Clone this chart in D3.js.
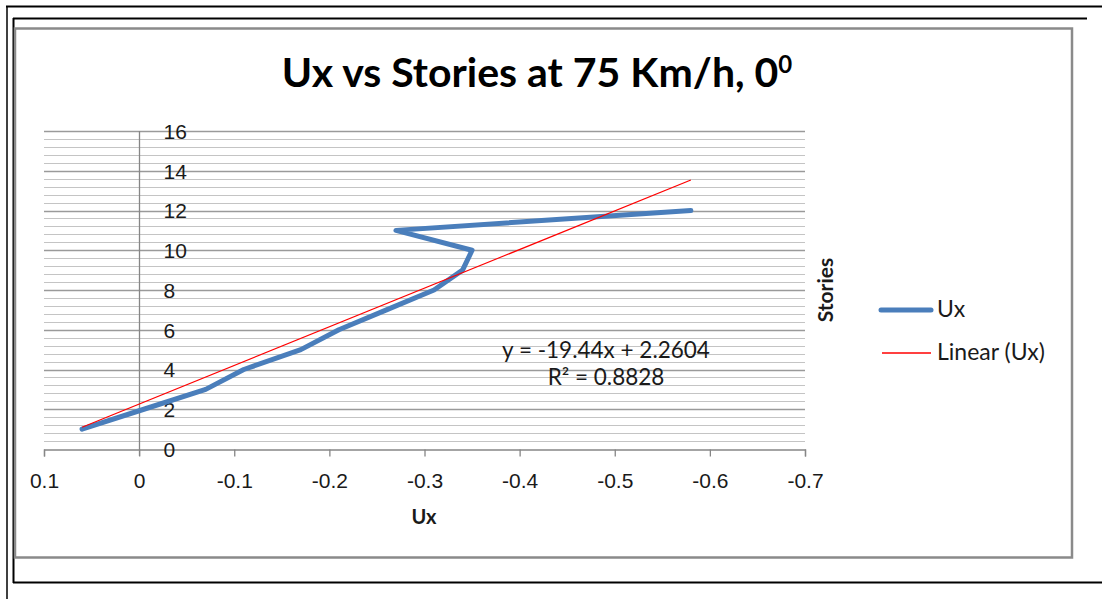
<!DOCTYPE html>
<html>
<head>
<meta charset="utf-8">
<script src="https://cdn.jsdelivr.net/npm/d3@7"></script>
<style>
  html, body { margin: 0; padding: 0; background: #fff; }
  svg { display: block; font-family: Lato, "Open Sans", sans-serif; }
</style>
</head>
<body>
<svg id="chart" width="1102" height="599"></svg>
<script>
// Story numbers and the lateral displacement Ux at each story
const stories = [1, 2, 3, 4, 5, 6, 7, 8, 9, 10, 11, 12];
const ux = [0.06, -0.005, -0.07, -0.11, -0.17, -0.21, -0.26, -0.31, -0.34, -0.35, -0.27, -0.58];

// Linear trendline (Stories = slope * Ux + intercept)
const slope = -19.44;
const intercept = 2.2604;
const rSquared = 0.8828;

// Axis ticks
const xTicks = [0.1, 0, -0.1, -0.2, -0.3, -0.4, -0.5, -0.6, -0.7];
const yTicks = [0, 2, 4, 6, 8, 10, 12, 14, 16];
const yMinorStep = 0.4;

const svg = d3.select("#chart");
const textColor = "#1a1a1a";

// Page frame lines around the chart
const frame = svg.append("g").attr("fill", "none").attr("stroke", "#000");
frame.append("line").attr("x1", 6).attr("x2", 1102).attr("y1", 6.5).attr("y2", 6.5).attr("stroke-width", 2);
frame.append("line").attr("x1", 7).attr("x2", 7).attr("y1", 6).attr("y2", 599).attr("stroke-width", 1.5);
frame.append("line").attr("x1", 13).attr("x2", 1087).attr("y1", 18.5).attr("y2", 18.5).attr("stroke-width", 2);
frame.append("line").attr("x1", 13.5).attr("x2", 13.5).attr("y1", 18).attr("y2", 583).attr("stroke-width", 2);
frame.append("line").attr("x1", 13).attr("x2", 1102).attr("y1", 582.5).attr("y2", 582.5).attr("stroke-width", 2);

// Chart area with its grey border
svg.append("rect")
  .attr("x", 15).attr("y", 28.5).attr("width", 1057).attr("height", 529)
  .attr("fill", "#fff").attr("stroke", "#8a8a8a").attr("stroke-width", 2.5);

// Scales
const x = d3.scaleLinear().domain([0.1, -0.7]).range([44, 805]);
const y = d3.scaleLinear().domain([0, 16]).range([449, 131]);

// Minor and major horizontal gridlines
const minorVals = d3.range(0, 16 + 1e-9, yMinorStep).filter(v => Math.abs(v / 2 - Math.round(v / 2)) > 1e-6);
svg.append("g").selectAll("line").data(minorVals).join("line")
  .attr("x1", x(0.1)).attr("x2", x(-0.7))
  .attr("y1", d => Math.round(y(d)) + 0.5).attr("y2", d => Math.round(y(d)) + 0.5)
  .attr("stroke", "#c4c4c4").attr("stroke-width", 1.2);
svg.append("g").selectAll("line").data(yTicks.filter(v => v > 0)).join("line")
  .attr("x1", x(0.1)).attr("x2", x(-0.7))
  .attr("y1", d => Math.round(y(d)) + 0.5).attr("y2", d => Math.round(y(d)) + 0.5)
  .attr("stroke", "#9a9a9a").attr("stroke-width", 1.3);

// Plain hyphen for negative numbers
const fmt = d => d === 0 ? "0" : d3.format(".1f")(d).replace("\u2212", "-");

// X axis along Stories = 0
const xAxis = d3.axisBottom(x).tickValues(xTicks).tickSize(7).tickPadding(17).tickFormat(fmt);
const gx = svg.append("g").attr("transform", `translate(0,${Math.round(y(0)) + 0.5})`).call(xAxis);
gx.select(".domain").attr("stroke", "#868686").attr("stroke-width", 1.3);
gx.selectAll(".tick line").attr("stroke", "#868686").attr("stroke-width", 1.3);
gx.selectAll(".tick text").attr("fill", textColor).attr("font-size", 21);

// Y axis through Ux = 0, labels to its right
const yAxis = d3.axisRight(y).tickValues(yTicks).tickSize(0).tickPadding(24);
const gy = svg.append("g").attr("transform", `translate(${Math.round(x(0)) + 0.5},0)`).call(yAxis);
gy.select(".domain").attr("stroke", "#868686").attr("stroke-width", 1.3)
  .attr("d", `M0,${y(16)}V${y(0) + 7}`);
gy.selectAll(".tick text").attr("fill", textColor).attr("font-size", 21).attr("dy", "0.35em");

// Data line
const line = d3.line().x(d => x(d[0])).y(d => y(d[1]));
const pts = ux.map((v, i) => [v, stories[i]]);
svg.append("path").datum(pts)
  .attr("d", line)
  .attr("fill", "none").attr("stroke", "#4a7ebb").attr("stroke-width", 5)
  .attr("stroke-linejoin", "round").attr("stroke-linecap", "round");

// Linear trendline across the data's Ux range
const xExt = d3.extent(ux);
const trend = xExt.map(v => [v, slope * v + intercept]);
svg.append("path").datum(trend)
  .attr("d", line)
  .attr("fill", "none").attr("stroke", "#ff0000").attr("stroke-width", 1.2);

// Trendline equation and R²
const eq = svg.append("g").attr("font-size", 22.5).attr("fill", textColor).attr("text-anchor", "middle");
eq.append("text").attr("x", 606).attr("y", 358)
  .text(`y = ${slope}x + ${intercept}`);
eq.append("text").attr("x", 606).attr("y", 385)
  .text(`R² = ${rSquared}`);

// Title
const title = svg.append("text").attr("x", 537).attr("y", 87)
  .attr("text-anchor", "middle").attr("font-weight", "bold").attr("font-size", 41).attr("fill", "#000");
title.append("tspan").text("Ux vs Stories at 75 Km/h, 0");
title.append("tspan").attr("font-size", 24).attr("dy", -14).text("0");

// Axis titles
svg.append("text").attr("x", 424).attr("y", 524).attr("text-anchor", "middle")
  .attr("font-weight", "bold").attr("font-size", 20).attr("fill", textColor).text("Ux");
svg.append("text").attr("transform", "translate(833,290) rotate(-90)").attr("text-anchor", "middle")
  .attr("font-weight", "bold").attr("font-size", 21).attr("fill", textColor).text("Stories");

// Legend
const legend = svg.append("g");
legend.append("line").attr("x1", 881).attr("x2", 931).attr("y1", 310).attr("y2", 310)
  .attr("stroke", "#4a7ebb").attr("stroke-width", 5).attr("stroke-linecap", "round");
legend.append("text").attr("x", 937).attr("y", 317).attr("font-size", 23).attr("fill", textColor).text("Ux");
legend.append("line").attr("x1", 882).attr("x2", 931).attr("y1", 353).attr("y2", 353)
  .attr("stroke", "#ff0000").attr("stroke-width", 1.5);
legend.append("text").attr("x", 937).attr("y", 360).attr("font-size", 23).attr("fill", textColor).text("Linear (Ux)");
</script>
</body>
</html>
